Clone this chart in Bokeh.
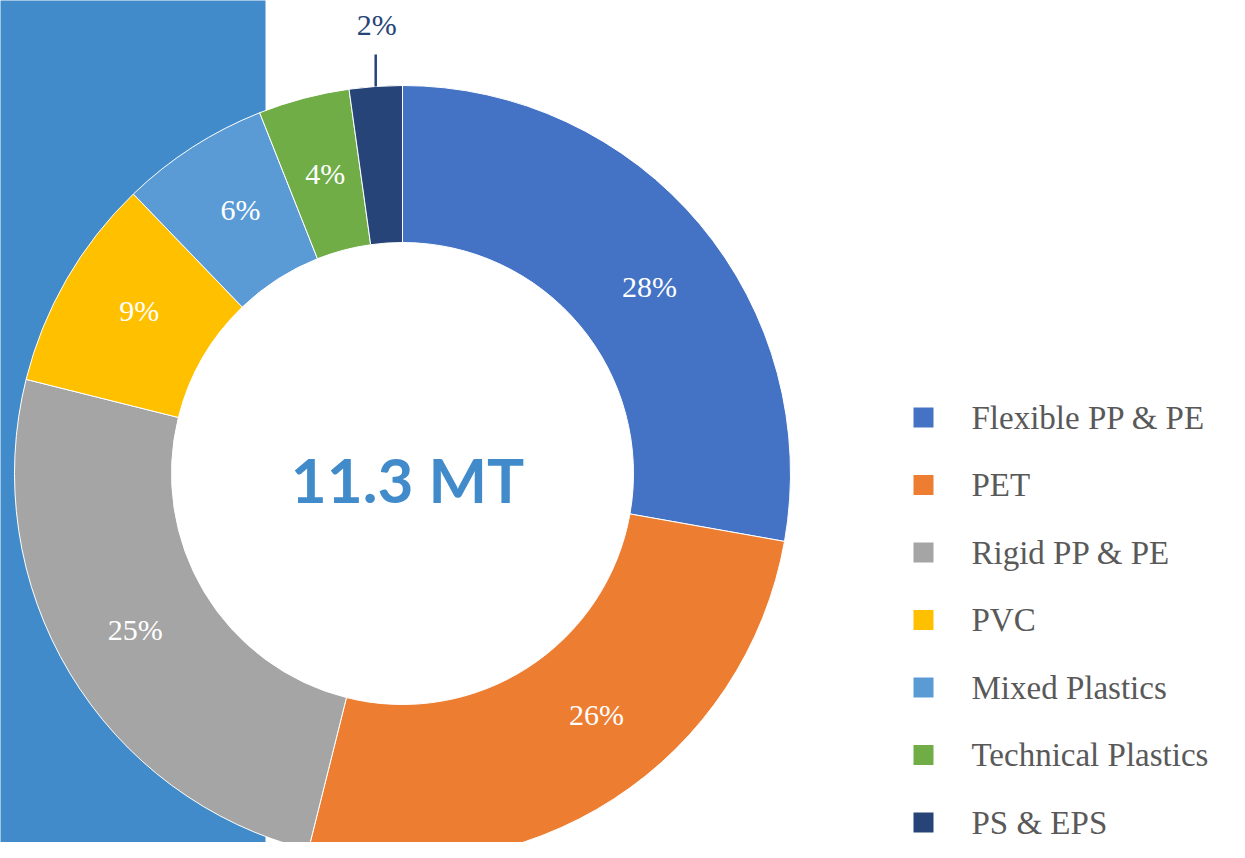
import math
from bokeh.plotting import figure
from bokeh.models import Range1d, ColumnDataSource
from bokeh.core.properties import value
from bokeh.embed import file_html
from bokeh.resources import INLINE

# ---- data ----
categories = ["Flexible PP & PE", "PET", "Rigid PP & PE", "PVC",
              "Mixed Plastics", "Technical Plastics", "PS & EPS"]
shares = [27.8, 26.1, 25.0, 8.9, 6.2, 3.8, 2.2]
labels = ["28%", "26%", "25%", "9%", "6%", "4%", "2%"]
colors = ["#4472C4", "#ED7D31", "#A5A5A5", "#FFC000",
          "#5B9BD5", "#70AD47", "#264478"]
center_text = "11.3 MT"

# label placement nudges (degrees, layout only)
label_nudge_deg = [2.9, -5.9, 0.7, 1.7, 1.2, 0.3]

SERIF = value("'Liberation Serif', 'Times New Roman', serif")

# ---- layout (reference pixel space, y flipped) ----
H = 858
def Y(ypx):
    return H - ypx

cx, cy = 402, Y(473)
r_in, r_out = 231, 388

total = sum(shares)
starts, ends, mids = [], [], []
acc = 0.0
for s in shares:
    a0 = math.pi / 2 - 2 * math.pi * acc / total
    acc += s
    a1 = math.pi / 2 - 2 * math.pi * acc / total
    starts.append(a0)
    ends.append(a1)
    mids.append((a0 + a1) / 2)

W_FIG, H_FIG = 1229, 842
p = figure(width=W_FIG, height=H_FIG, output_backend="svg", toolbar_location=None,
           x_range=Range1d(0, W_FIG), y_range=Range1d(H - H_FIG, H),
           min_border=0, x_axis_location=None, y_axis_location=None)
p.grid.visible = False
p.outline_line_color = None
p.background_fill_color = "white"
p.border_fill_color = "white"

# left blue panel
p.quad(left=[-10], right=[265], bottom=[0], top=[H + 10], fill_color="#428BCA", line_color=None)

# white hole
p.wedge(x=cx, y=cy, radius=r_in + 2, start_angle=0, end_angle=2 * math.pi,
        fill_color="white", line_color=None)

src = ColumnDataSource(dict(start=starts, end=ends, color=colors, cat=categories))
p.annular_wedge(x=cx, y=cy, inner_radius=r_in, outer_radius=r_out,
                start_angle="start", end_angle="end", direction="clock",
                fill_color="color", line_color="white", line_width=1, source=src)

# inside labels (all but the smallest)
r_mid = (r_in + r_out) / 2
lx, ly, lt = [], [], []
for i in range(len(shares) - 1):
    a = mids[i] - math.radians(label_nudge_deg[i])
    lx.append(cx + r_mid * math.cos(a))
    ly.append(cy + r_mid * math.sin(a))
    lt.append(labels[i])
p.text(x=lx, y=ly, text=lt, text_color="white", text_font=SERIF,
       text_font_size="30px", text_align="center", text_baseline="middle")

# outside label for the smallest slice
a = mids[-1]
x0 = cx + r_out * math.cos(a)
p.segment(x0=[x0], y0=[cy + r_out * math.sin(a)], x1=[x0], y1=[cy + (r_out + 31)],
          line_color="#264478", line_width=2.5)
p.text(x=[x0 + 1], y=[Y(24)], text=[labels[-1]], text_color="#264478",
       text_font=SERIF, text_font_size="30px",
       text_align="center", text_baseline="middle")

# center text
p.text(x=[407], y=[Y(478)], text=[center_text], text_color="#428BCA",
       text_font=value("Lato"), text_font_style="bold", text_font_size="62px",
       text_align="center", text_baseline="middle")

# legend
row0, step = 417, 67.5
ys = [Y(row0 + step * i) for i in range(len(categories))]
p.scatter(x=[923] * len(categories), y=ys, marker="square", size=20,
          fill_color=colors, line_color=None)
p.text(x=[971] * len(categories), y=ys, text=categories, text_color="#595959",
       text_font=SERIF, text_font_size="33px",
       text_align="left", text_baseline="middle")

open("out.html", "w").write(file_html(p, INLINE))
